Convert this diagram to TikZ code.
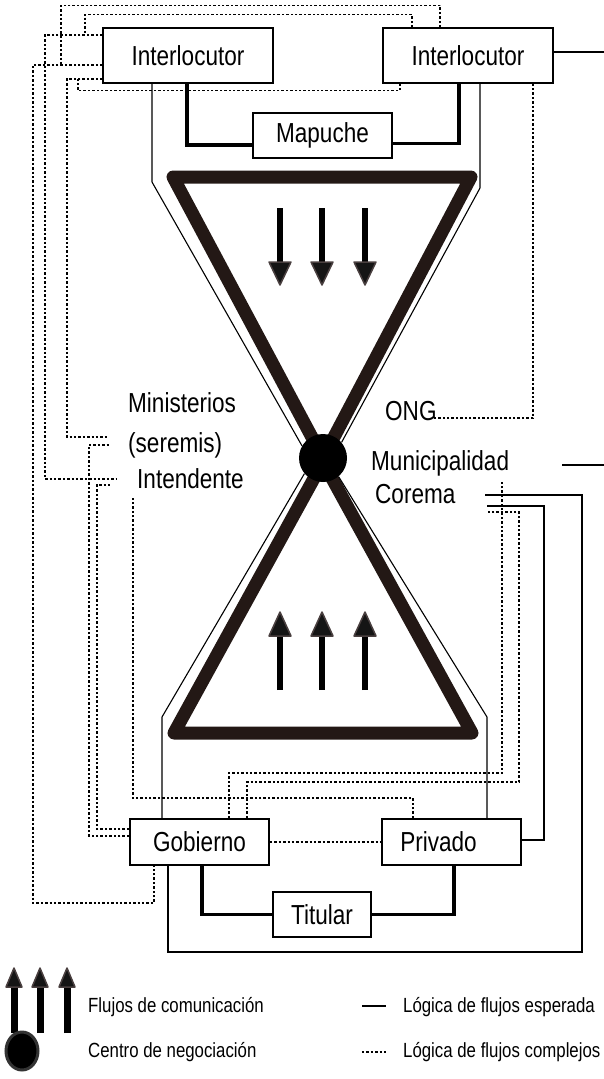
\documentclass[tikz,border=0pt]{standalone}
\usepackage{fontspec}
\setmainfont{Liberation Sans}[FakeStretch=0.82]
\definecolor{tribrown}{HTML}{231815}
\definecolor{headgray}{HTML}{4a4040}
\definecolor{headfill}{HTML}{151515}
\begin{document}
\begin{tikzpicture}[x=1pt,y=-1pt,
  box/.style={draw, line width=1.2pt, inner sep=0pt, font=\fontsize{27.5}{30}\selectfont},
  lbl/.style={font=\fontsize{27.5}{30}\selectfont, inner sep=0pt, anchor=base west},
  leg/.style={font=\fontsize{20.5}{23}\selectfont, inner sep=0pt, anchor=base west},
  solidline/.style={line width=1.1pt},
  dotline/.style={line width=1.3pt, dash pattern=on 2.4pt off 2pt},
  thickline/.style={line width=3.4pt},
  tri/.style={draw=tribrown, line width=13pt, line join=round},
  shaft/.style={line width=6pt},
  head/.style={fill=headfill, draw=headgray, line width=1.5pt, line join=round}
]
\useasboundingbox (0,0) rectangle (604,1079);

% hourglass triangles
\draw[tri] (173,177) -- (471,177) -- (323,458) -- cycle;
\draw[tri] (323,462) -- (472,733) -- (174,733) -- cycle;

% arrows
\foreach \x in {280,322,365} {
  \draw[shaft] (\x,208) -- (\x,264);
  \draw[head] (\x-11,262) -- (\x+11,262) -- (\x,285) -- cycle;
  \draw[shaft] (\x,690) -- (\x,634);
  \draw[head] (\x-11,636) -- (\x+11,636) -- (\x,612) -- cycle;
}

% boxes
\node[box, minimum width=170pt, minimum height=55pt] (il) at (188,55.5) {Interlocutor};
\node[box, minimum width=170pt, minimum height=55pt] (ir) at (468,55.5) {Interlocutor};
\node[box, minimum width=139pt, minimum height=45pt] (map) at (322.5,135.5) {Mapuche};
\node[box, line width=1.8pt, minimum width=139pt, minimum height=46pt] (gob) at (199.5,842) {Gobierno};
\node[box, line width=1.8pt, minimum width=139pt, minimum height=46pt] (pri) at (451.5,842) {\hspace*{-26pt}Privado};
\node[box, minimum width=98pt, minimum height=45pt] (tit) at (322,914.5) {Titular};

% centre
\node[circle, fill=black, minimum size=48pt, inner sep=0pt] (ctr) at (323,458) {};

% free labels
\node[lbl] (mini) at (128,412) {Ministerios};
\node[lbl] (ser) at (128,452) {(seremis)};
\node[lbl] (intd) at (137,488) {Intendente};
\node[lbl] (ong) at (385,420) {ONG};
\node[lbl] (mun) at (371,470) {Municipalidad};
\node[lbl] (cor) at (375,503) {Corema};

% thin outline of hourglass
\draw[solidline] ([xshift=-36pt]il.south) -- (152,182) -- (ctr.150);
\draw[solidline] ([xshift=12pt]ir.south) -- (480,188) -- (ctr.40);
\draw[solidline] ([xshift=-37.5pt]gob.north) -- (162,717) -- (ctr.220);
\draw[solidline] ([xshift=35.5pt]pri.north) -- (487,717) -- (ctr.310);

% thick connectors
\draw[thickline] ([xshift=-1pt]il.south) |- ([yshift=-9.5pt]map.west);
\draw[thickline] ([xshift=-9pt]ir.south) |- ([yshift=-8pt]map.east);
\draw[thickline] ([xshift=2.5pt]gob.south) |- (tit.west);
\draw[thickline] ([xshift=2.5pt]pri.south) |- (tit.east);

% thin solid connectors
\coordinate (e1) at (604,52);
\coordinate (m1) at (562,465);
\coordinate (m2) at (604,465);
\coordinate (c1) at (485,495);
\coordinate (c2) at (487,506);
\draw[solidline] ([yshift=3.5pt]ir.east) -- (e1);
\draw[solidline] (m1) -- (m2);
\draw[solidline] ([xshift=-31.5pt]gob.south) -- (168,952) -| (582,495) -- (c1);
\draw[solidline] ([yshift=2pt]pri.east) -- (544,840) |- (c2);

% dotted connectors
\draw[dotline] ([xshift=-28pt]ir.north) -- ++(0,-22) -| (61,65);
\draw[dotline] ([xshift=-56pt]ir.north) -- ++(0,-13) -| (85,35);
\draw[dotline] ([yshift=20.5pt]il.west) -| (45,479) -- (117,479);
\draw[dotline] ([yshift=-9.5pt]il.west) -| (33,903) -| ([xshift=-45.5pt]gob.south);
\draw[dotline] ([yshift=-23.5pt]il.west) -| (67,437) -- (107,437);
\draw[dotline] ([xshift=-68pt]ir.south) -- ++(0,7) -| (78,79);
\draw[dotline] ([xshift=65pt]ir.south) |- (433,418);
\draw[dotline] ([yshift=6pt]gob.west) -| (89,445) -- (109,445);
\draw[dotline] ([yshift=13pt]gob.west) -| (97,485) -- (110,485);
\draw[dotline] ([xshift=-38.5pt]pri.north) -- ++(0,-20) -| (133,498);
\draw[dotline] ([xshift=29.5pt]gob.north) -- ++(0,-45) -| (502,482);
\draw[dotline] ([xshift=47.5pt]gob.north) -- ++(0,-36) -| (519,512) -- (487,512);
\draw[dotline] (gob.east) -- (pri.west);

% legend
\foreach \x in {14,40,67} {
  \draw[line width=7pt] (\x,1033) -- (\x,984);
  \draw[head] (\x-8,987) -- (\x+8,987) -- (\x,968) -- cycle;
}
\node[leg] (lg1) at (88,1012) {Flujos de comunicación};
\draw[fill=black, draw=black!80, line width=3pt] (22,1051) ellipse [x radius=16pt, y radius=19pt];
\node[leg] (lg2) at (88,1057) {Centro de negociación};
\draw[solidline] (362,1006) -- (386,1006);
\node[leg] (lg3) at (403,1012) {Lógica de flujos esperada};
\draw[dotline] (362,1052) -- (386,1052);
\node[leg] (lg4) at (403,1057) {Lógica de flujos complejos};
\end{tikzpicture}
\end{document}
